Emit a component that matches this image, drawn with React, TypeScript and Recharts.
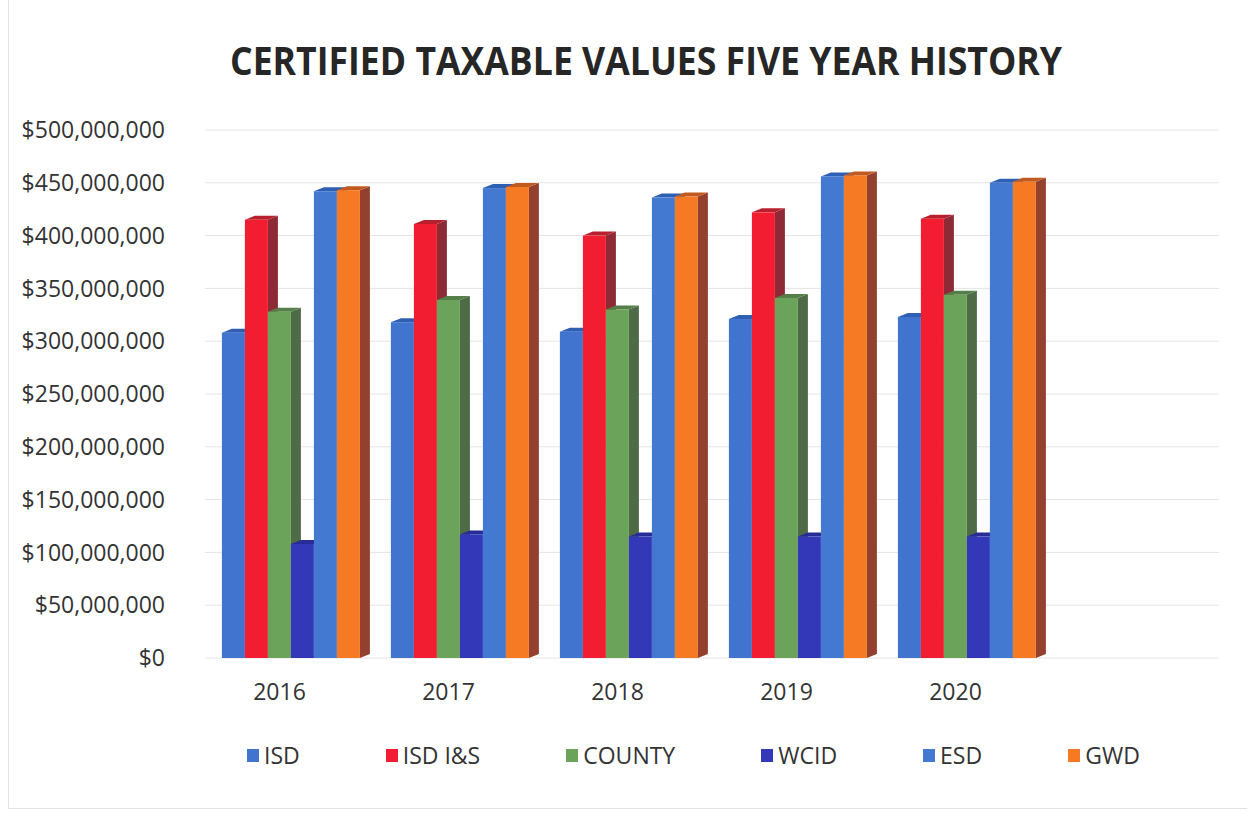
import { Bar, BarChart, CartesianGrid, XAxis, YAxis } from "recharts";

const years = ["2016", "2017", "2018", "2019", "2020", ""];

const isd = [308000000, 318000000, 309000000, 321000000, 323000000, null];
const isdIS = [415000000, 411000000, 400000000, 422000000, 416000000, null];
const county = [328000000, 339000000, 330000000, 341000000, 344000000, null];
const wcid = [108000000, 117000000, 115000000, 115000000, 115000000, null];
const esd = [442000000, 445000000, 436000000, 456000000, 450000000, null];
const gwd = [443000000, 446000000, 437000000, 457000000, 451000000, null];

const yTicks = [0, 50000000, 100000000, 150000000, 200000000, 250000000, 300000000, 350000000, 400000000, 450000000, 500000000];

const series = [
  { key: "isd", name: "ISD", color: "#4174cf", side: "#2e5aa8", top: "#2f5fb3" },
  { key: "isdIS", name: "ISD I&S", color: "#f21d30", side: "#8e2a36", top: "#b8202e" },
  { key: "county", name: "COUNTY", color: "#6ba35a", side: "#4e6a47", top: "#557f48" },
  { key: "wcid", name: "WCID", color: "#3338b8", side: "#25298a", top: "#272c96" },
  { key: "esd", name: "ESD", color: "#4479d2", side: "#2f5cab", top: "#2f5fb3" },
  { key: "gwd", name: "GWD", color: "#f57a23", side: "#93402e", top: "#c25a20" },
];

const data = years.map((year, i) => ({
  year,
  isd: isd[i],
  isdIS: isdIS[i],
  county: county[i],
  wcid: wcid[i],
  esd: esd[i],
  gwd: gwd[i],
}));

const FONT = "'Open Sans', 'DejaVu Sans', sans-serif";
const DX = 10;
const DY = 4;

// front face + darker right side + top face, for the Excel-like 3D look
function Bar3D(props: any) {
  const { x, y, width, height, fill, side, topc } = props;
  if (height == null || height <= 0) return null;
  return (
    <g>
      <polygon
        points={`${x + width},${y} ${x + width + DX},${y - DY} ${x + width + DX},${y + height - DY} ${x + width},${y + height}`}
        fill={side}
      />
      <polygon
        points={`${x},${y} ${x + DX},${y - DY} ${x + width + DX},${y - DY} ${x + width},${y}`}
        fill={topc}
      />
      <rect x={x} y={y} width={width} height={height} fill={fill} />
    </g>
  );
}

const money = (v: number) => "$" + v.toLocaleString("en-US");

export default function App() {
  return (
    <div
      style={{
        position: "absolute",
        left: 0,
        top: 0,
        width: 1254,
        height: 813,
        background: "#fff",
        fontFamily: FONT,
      }}
    >
      <div
        style={{
          position: "absolute",
          left: 8,
          top: 0,
          width: 1238,
          height: 808,
          borderLeft: "1px solid #e2e2e2",
          borderBottom: "1px solid #e2e2e2",
        }}
      />
      <svg width={1254} height={100} style={{ position: "absolute", left: 0, top: 0 }}>
        <text
          x={230}
          y={75}
          textLength={832}
          lengthAdjust="spacingAndGlyphs"
          fontFamily={FONT}
          fontWeight={700}
          fontSize={39}
          fill="#262626"
        >
          CERTIFIED TAXABLE VALUES FIVE YEAR HISTORY
        </text>
      </svg>
      <div style={{ position: "absolute", left: 0, top: 0 }}>
        <BarChart
          width={1254}
          height={813}
          data={data}
          margin={{ top: 130, right: 35, left: 0, bottom: 125 }}
          barCategoryGap="10%"
          barGap={0}
        >
          <CartesianGrid vertical={false} stroke="#e4e4e4" />
          <XAxis
            dataKey="year"
            axisLine={false}
            tickLine={false}
            tickMargin={20}
            height={30}
            tick={{ fontSize: 23, fill: "#333", fontFamily: FONT, dx: -10 }}
          />
          <YAxis
            width={205}
            domain={[0, 500000000]}
            ticks={yTicks}
            interval={0}
            axisLine={false}
            tickLine={false}
            tickMargin={34}
            tickFormatter={money}
            tick={{ fontSize: 23, fill: "#333", fontFamily: FONT }}
          />
          {series.map((s) => (
            <Bar
              key={s.key}
              dataKey={s.key}
              name={s.name}
              fill={s.color}
              isAnimationActive={false}
              shape={(p: any) => <Bar3D {...p} fill={s.color} side={s.side} topc={s.top} />}
            />
          ))}
        </BarChart>
      </div>
      <div
        style={{
          position: "absolute",
          left: 247,
          top: 739,
          display: "flex",
          alignItems: "center",
          gap: 86,
          fontSize: 23,
          color: "#333",
        }}
      >
        {series.map((s) => (
          <div key={s.key} style={{ display: "flex", alignItems: "center" }}>
            <span style={{ display: "inline-block", width: 12, height: 13, background: s.color, marginRight: 5 }} />
            <span>{s.name}</span>
          </div>
        ))}
      </div>
    </div>
  );
}
